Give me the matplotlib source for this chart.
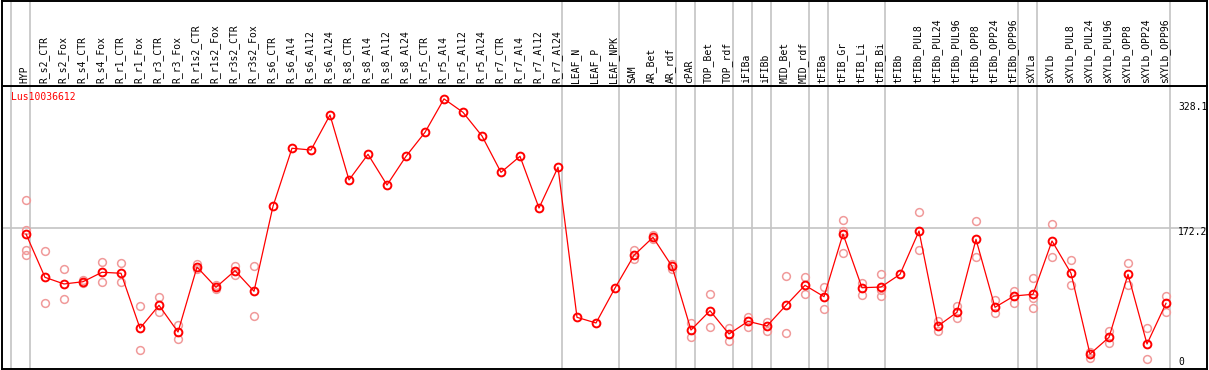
import matplotlib
matplotlib.use("Agg")
import matplotlib.pyplot as plt

# ---------------- data ----------------
gene = "Lus10036612"
samples = ["HYP", "R_s2_CTR", "R_s2_Fox", "R_s4_CTR", "R_s4_Fox", "R_r1_CTR", "R_r1_Fox",
           "R_r3_CTR", "R_r3_Fox", "R_r1s2_CTR", "R_r1s2_Fox", "R_r3s2_CTR", "R_r3s2_Fox",
           "R_s6_CTR", "R_s6_Al4", "R_s6_Al12", "R_s6_Al24", "R_s8_CTR", "R_s8_Al4",
           "R_s8_Al12", "R_s8_Al24", "R_r5_CTR", "R_r5_Al4", "R_r5_Al12", "R_r5_Al24",
           "R_r7_CTR", "R_r7_Al4", "R_r7_Al12", "R_r7_Al24", "LEAF_N", "LEAF_P", "LEAF_NPK",
           "SAM", "AR_Bet", "AR_rdf", "cPAR", "TOP_Bet", "TOP_rdf", "iFIBa", "iFIBb",
           "MID_Bet", "MID_rdf", "tFIBa", "tFIB_Gr", "tFIB_Li", "tFIB_Bi", "tFIBb",
           "tFIBb_PUL8", "tFIBb_PUL24", "tFIBb_PUL96", "tFIBb_OPP8", "tFIBb_OPP24",
           "tFIBb_OPP96", "sXYLa", "sXYLb", "sXYLb_PUL8", "sXYLb_PUL24", "sXYLb_PUL96",
           "sXYLb_OPP8", "sXYLb_OPP24", "sXYLb_OPP96"]

means = [165.3, 113.1, 105.1, 107.8, 119.2, 118.0, 51.7, 79.4, 47.2, 125.5, 101.1, 121.1, 96.3,
         198.7, 268.6, 266.5, 308.7, 230.4, 261.3, 224.3, 258.9, 287.8, 328.1, 311.9, 283.4,
         239.6, 258.9, 196.6, 245.7, 64.9, 58.1, 100.2,
         139.6, 161.3, 126.4, 49.6, 72.9, 44.8, 60.1, 54.5,
         79.4, 103.5, 89.8, 165.3, 100.6, 101.4, 116.7,
         168.9, 54.5, 71.0, 158.9, 77.0, 90.6,
         92.7, 156.9, 118.0, 20.7, 40.8, 116.7, 32.8, 81.8]

replicates = [
    [206.3, 170.1, 146.0, 140.0], [144.8, 82.2], [123.1, 86.6], [109.9, 106.3], [131.2, 107.1],
    [130.0, 107.1], [78.6, 25.5], [89.4, 71.0], [56.0, 39.2], [129.2, 123.1], [103.3, 99.0],
    [127.1, 115.9], [126.7, 66.1],
    [], [], [], [], [], [], [], [], [], [], [], [], [], [], [], [], [], [], [],
    [146.0, 134.8], [163.7, 159.6], [129.2, 123.5], [58.4, 41.6], [92.7, 52.9], [52.4, 36.7],
    [65.7, 53.6], [59.6, 48.4],
    [114.3, 46.0], [113.5, 93.4], [101.8, 74.9], [181.8, 168.9, 142.0], [106.6, 92.2],
    [116.7, 97.8, 90.6], [],
    [191.4, 146.0], [59.9, 48.4], [78.9, 64.5], [180.6, 137.2], [85.8, 69.8], [97.0, 82.5],
    [111.9, 87.8, 75.8], [177.0, 137.2], [133.6, 103.5], [23.1, 15.5], [48.4, 33.6],
    [130.0, 103.9], [51.7, 14.3], [90.6, 71.7]]

group_ends = [-1, 0, 28, 31, 34, 35, 37, 38, 39, 41, 42, 45, 52, 53, 60]
ref_values = [328.1, 172.2, 0]
ref_labels = ["328.1", "172.2", "0"]
grid_value = 172.2

# ---------------- layout ----------------
W, H = 1209, 370
fig = plt.figure(figsize=(W / 100, H / 100), dpi=100)
L_px, R_px = 1.5, 1207.0
head_px = 85.5
bot_px = 369.0

x0_px, dx_px = 26.0, 19.0
xlim = ((L_px - x0_px) / dx_px, (R_px - x0_px) / dx_px)
y0_px, sy = 371.2, 0.83  # value 0 pixel row, pixels per unit
ylim = ((y0_px - bot_px) / sy, (y0_px - head_px) / sy)

ax = fig.add_axes([L_px / W, (H - bot_px) / H, (R_px - L_px) / W, (bot_px - head_px) / H])
hx = fig.add_axes([L_px / W, (H - head_px) / H, (R_px - L_px) / W, (head_px - 0.5) / H])

mono = "DejaVu Sans Mono"
grey = "#c4c4c4"
for a in (ax, hx):
    a.set_xlim(*xlim)
    a.set_xticks([])
    a.set_yticks([])
    for s in a.spines.values():
        s.set_color("black")
        s.set_linewidth(1.4)
    for g in group_ends:
        a.axvline(g + 0.23, color=grey, lw=1.2, zorder=0)
hx.set_ylim(0, 1)
ax.set_ylim(*ylim)
ax.axhline(grid_value, color=grey, lw=1.2, zorder=0)

# header labels
for i, s in enumerate(samples):
    hx.text(i - 0.08, 0.03, s, rotation=90, ha="center", va="bottom",
            family=mono, fontsize=7, color="black")

# replicates
rx, ry = [], []
for i, reps in enumerate(replicates):
    for v in reps:
        rx.append(i)
        ry.append(v)
ax.plot(rx, ry, linestyle="none", marker="o", markersize=5.6, markerfacecolor="none",
        markeredgecolor="#f09a9a", markeredgewidth=1.1, zorder=2)

# means
xs = list(range(len(samples)))
ax.plot(xs, means, color="#ff0000", lw=0.9, marker="o", markersize=5.6,
        markerfacecolor="none", markeredgecolor="#ff0000", markeredgewidth=1.4, zorder=3)

# gene label
ax.text(10 / (R_px - L_px), 1 - (97 - head_px) / (bot_px - head_px), gene,
        transform=ax.transAxes, color="#ff0000", family=mono, fontsize=7,
        ha="left", va="center")

# right value labels (pixel offsets from the value's row; positive = up)
offs = [-8, -4, 9]
for v, lab, dy in zip(ref_values, ref_labels, offs):
    ax.annotate(lab, xy=(1, v), xycoords=ax.get_yaxis_transform(),
                xytext=(-(R_px - 1178), dy), textcoords="offset pixels",
                ha="left", va="center", family=mono, fontsize=7, color="black",
                annotation_clip=False)

fig.savefig("out.png", dpi=100)
